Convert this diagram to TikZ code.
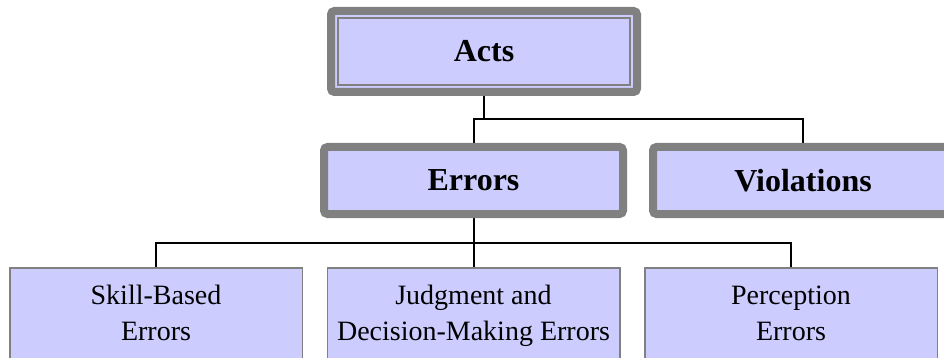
\documentclass[tikz,border=0pt]{standalone}
\usepackage{fontspec}
\setmainfont{Liberation Serif}
\usetikzlibrary{backgrounds}
\definecolor{boxfill}{HTML}{CCCCFF}
\definecolor{boxline}{HTML}{808080}
\tikzset{
  topbox/.style={draw=boxline, fill=boxfill, line width=8pt, rounded corners=3.5pt,
    inner sep=0pt, font=\fontsize{32}{38}\selectfont\bfseries},
  leafbox/.style={draw=boxline, fill=boxfill, line width=1.5pt, inner sep=0pt,
    minimum width=292.5pt, minimum height=90.5pt, align=center, text depth=0pt,
    font=\fontsize{28}{36}\selectfont},
  conn/.style={draw=black, line width=2pt},
}
\begin{document}
\begin{tikzpicture}[x=1pt,y=-1pt]
\useasboundingbox (0,0) rectangle (944,358);
\clip (0,0) rectangle (944,358);
\node[topbox, minimum width=306pt, minimum height=81pt] (acts) at (484,51.5) {Acts};
\draw[boxline, line width=1.8pt] ([shift={(10.8pt,-10.8pt)}]acts.north west) rectangle ([shift={(-10.8pt,10.8pt)}]acts.south east);
\node[topbox, minimum width=299pt, minimum height=67pt] (errors) at (473.5,180.5) {Errors};
\node[topbox, minimum width=300pt, minimum height=67pt] (viol) at (803,180.5) {Violations};
\node[leafbox] (skill) at (156,313) {Skill-Based\\Errors};
\node[leafbox] (judg) at (473.5,313) {Judgment and\\Decision-Making Errors};
\node[leafbox] (perc) at (791,313) {Perception\\Errors};
\coordinate (j1) at (484,119);
\coordinate (j2) at (473.5,243);
\begin{scope}[on background layer]
\draw[conn] (acts.south) -- (j1);
\draw[conn] (errors.north) |- (j1) -| (viol.north);
\draw[conn] (errors.south) -- (judg.north);
\draw[conn] (skill.north) |- (j2) -| (perc.north);
\end{scope}
\end{tikzpicture}
\end{document}
